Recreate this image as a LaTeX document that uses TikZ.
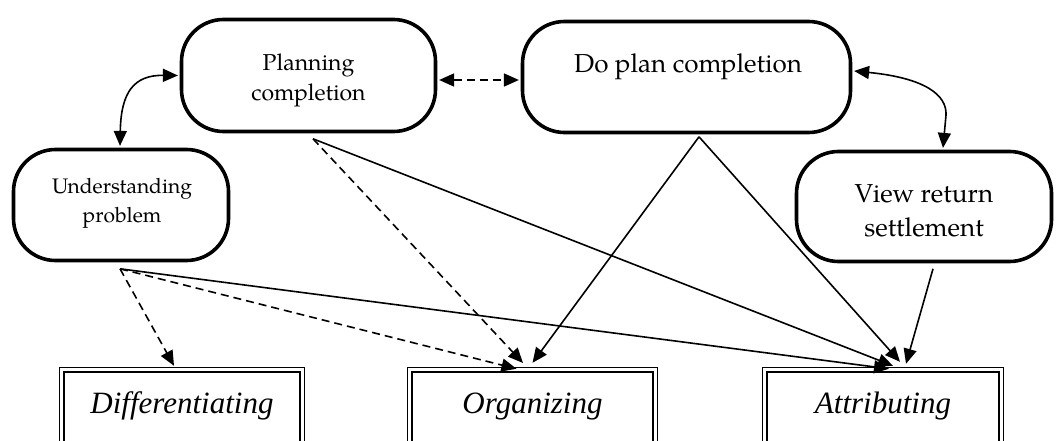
\documentclass[tikz,border=0pt]{standalone}
\usepackage{fontspec}
\setmainfont{TeX Gyre Pagella}
\newfontfamily\timesfont{Liberation Serif}
\usetikzlibrary{arrows.meta,calc}
\begin{document}
\begin{tikzpicture}[x=1pt,y=-1pt,
  rbox/.style={draw, line width=3.6pt, rounded corners=42pt, inner sep=0pt},
  cbox/.style={draw, line width=1.6pt, double, double distance=3pt, inner xsep=0pt, inner ysep=0pt,
    anchor=north, font=\timesfont\itshape\fontsize{31}{36}\selectfont, text height=44.2pt, text depth=90pt},
  conn/.style={line width=1.6pt, -{Triangle[length=15pt,width=13pt]}},
  dconn/.style={conn, dash pattern=on 8pt off 5pt},
  biconn/.style={line width=1.6pt, {Triangle[length=15pt,width=13pt]}-{Triangle[length=15pt,width=13pt]}},
  txt/.style={align=center, inner sep=0pt}
]
\useasboundingbox (0,0) rectangle (1056,441);
\clip (0,0) rectangle (1056,441);

% rounded boxes
\node[rbox, minimum width=254pt, minimum height=112pt] (plan) at (308.5,75.5) {};
\node[rbox, minimum width=328pt, minimum height=111pt] (doplan) at (686.5,77) {};
\node[rbox, minimum width=215pt, minimum height=111pt] (under) at (121,205) {};
\node[rbox, minimum width=255pt, minimum height=110pt] (view) at (924,206.5) {};

\node[txt, font=\fontsize{23}{30}\selectfont] (plantxt) at (308.5,80) {Planning\\completion};
\node[txt, font=\fontsize{26}{34}\selectfont, anchor=base] (doplantxt) at (688,73) {Do plan completion};
\node[txt, font=\fontsize{21}{29}\selectfont] (undertxt) at (122,203) {Understanding\\problem};
\node[txt, font=\fontsize{26}{34}\selectfont] (viewtxt) at (924,210.5) {View return\\settlement};

% bottom boxes
\node[cbox, minimum width=240.4pt] (diff) at (182,368.8) {Differentiating};
\node[cbox, minimum width=245.4pt] (org) at (532.5,368.8) {Organizing};
\node[cbox, minimum width=236.4pt] (attr) at (883,368.8) {Attributing};

% curved bidirectional connectors
\draw[biconn] ([xshift=-1pt,yshift=1.8pt]under.north) .. controls (121,92) and (134,75) .. ([xshift=-1.8pt]plan.west);
\draw[biconn] ([xshift=1.8pt,yshift=6pt]doplan.east) .. controls (925,78) and (947,95) .. (946,115) -- ([xshift=19pt,yshift=1.8pt]view.north);
\draw[biconn, dash pattern=on 8pt off 5pt] ([xshift=1.8pt,yshift=-4.5pt]plan.east) -- ([xshift=-1.8pt,yshift=-3pt]doplan.west);

% from Planning completion
\draw[dconn] ([xshift=4.5pt,yshift=-5.5pt]plan.south) -- ($(org.north)+(-9.5,-5.8)$);
\draw[conn] ([xshift=4.5pt,yshift=-5.5pt]plan.south) -- ($(attr.north)+(10,-3)$);

% from Do plan completion
\draw[conn] ([xshift=12.5pt,yshift=-2.5pt]doplan.south) -- ($(org.north)+(0,-6)$);
\draw[conn] ([xshift=12.5pt,yshift=-2.5pt]doplan.south) -- ($(attr.north)+(17,-7)$);

% from View return settlement
\draw[conn] ([xshift=9pt,yshift=-5.5pt]view.south) -- ($(attr.north)+(23,-5)$);

% from Understanding problem
\draw[dconn] ([xshift=-1pt,yshift=-6.5pt]under.south) -- ($(diff.north)+(-8,-3)$);
\draw[dconn] ([xshift=-1pt,yshift=-6.5pt]under.south) -- ($(org.north)+(-16,0)$);
\draw[conn] ([xshift=-1pt,yshift=-6.5pt]under.south) -- ($(attr.north)+(6,0)$);
\end{tikzpicture}
\end{document}
